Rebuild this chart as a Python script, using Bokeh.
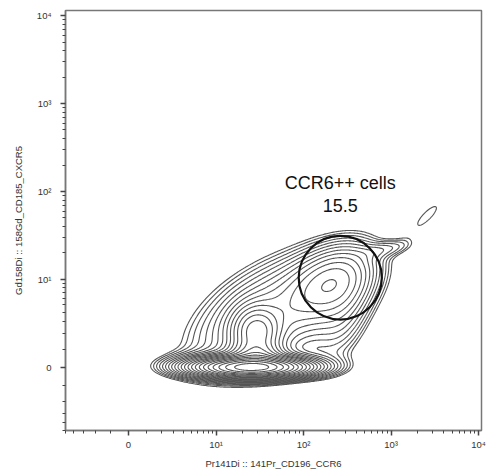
import numpy as np
from bokeh.plotting import figure
from bokeh.models import FixedTicker, Range1d
from bokeh.core.properties import value
from bokeh.embed import file_html
from bokeh.resources import INLINE

# ---- data (display decades of a biexponential scale: 0 -> 0, 10^k -> k) ----
x_title = "Pr141Di :: 141Pr_CD196_CCR6"
y_title = "Gd158Di :: 158Gd_CD185_CXCR5"
major_labels = ["0", "10\u00b9", "10\u00b2", "10\u00b3", "10\u2074"]

# cell populations (centre, spread, tilt, share)
pop_x = [1.40, 1.40, 1.46, 1.46, 2.32, 1.70, 2.45, 2.95, 3.42]
pop_y = [0.00, 0.03, 0.12, 0.40, 0.97, 0.62, 0.60, 1.35, 1.73]
pop_sx = [0.33, 0.45, 0.18, 0.16, 0.28, 0.55, 0.20, 0.20, 0.1924]
pop_sy = [0.06, 0.085, 0.10, 0.17, 0.24, 0.40, 0.35, 0.07, 0.1924]
pop_rho = [0.0, 0.0, 0.0, 0.0, 0.35, 0.5, 0.4, 0.5, 0.827]
pop_w = [0.40, 0.10, 0.05, 0.08, 0.125, 0.26, 0.03, 0.004, 0.00444]

gate_name = "CCR6++ cells"
gate_pct = "15.5"
gate_x, gate_y, gate_r = 2.42, 1.02, 0.475


def disp(v):
    return np.arcsinh(np.asarray(v, dtype=float) / 2.0) / np.log(10)


minor_vals = list(range(-5, 0)) + list(range(1, 10)) + \
    [m * 10 ** k for k in (1, 2, 3) for m in range(2, 10)]

# ---- density grid ----
gx = np.linspace(-0.72, 4.05, 420)
gy = np.linspace(-0.72, 4.07, 420)
X, Y = np.meshgrid(gx, gy)
Z = np.zeros_like(X)
for mx, my, sx, sy, r, w in zip(pop_x, pop_y, pop_sx, pop_sy, pop_rho, pop_w):
    dx = (X - mx) / sx
    dy = (Y - my) / sy
    q = (dx * dx - 2 * r * dx * dy + dy * dy) / (1 - r * r)
    Z += w / (2 * np.pi * sx * sy * np.sqrt(1 - r * r)) * np.exp(-q / 2)

# log-spaced contour levels
levels = []
lev = 0.03
while lev < Z.max():
    levels.append(lev)
    lev *= 1.25

p = figure(width=489, height=473, output_backend="svg", toolbar_location=None,
           x_range=Range1d(-0.72, 4.034), y_range=Range1d(-0.716, 4.057),
           min_border_left=65, min_border_right=8, min_border_top=10,
           min_border_bottom=43)
p.grid.visible = False
p.outline_line_color = "#777777"
p.outline_line_width = 1.5
p.background_fill_color = "white"
p.border_fill_color = "white"

p.contour(gx, gy, Z, levels, line_color="#555555", line_width=1.1,
          fill_color=None)

p.ellipse(x=[gate_x], y=[gate_y], width=2 * gate_r, height=2 * gate_r,
          fill_color=None, line_color="#111111", line_width=2.2)
p.text(x=[gate_x, gate_x], y=[2.10, 1.84], text=[gate_name, gate_pct],
       text_align="center", text_baseline="middle", text_color="#111111",
       text_font=value("Liberation Sans"), text_font_size="18px")

for ax, title in ((p.xaxis[0], x_title), (p.yaxis[0], y_title)):
    ax.ticker = FixedTicker(ticks=list(range(5)),
                            minor_ticks=[float(t) for t in disp(minor_vals)])
    ax.major_label_overrides = {i: lab for i, lab in enumerate(major_labels)}
    ax.axis_label = title
    ax.axis_label_text_font = "Liberation Sans"
    ax.axis_label_text_font_style = "normal"
    ax.axis_label_text_font_size = "9.5px"
    ax.axis_label_text_color = "#333333"
    ax.major_label_text_font = "Liberation Sans"
    ax.major_label_text_font_size = "9.5px"
    ax.major_label_text_color = "#333333"
    ax.axis_line_color = "#777777"
    ax.axis_line_width = 1.5
    ax.major_tick_line_color = "#444444"
    ax.minor_tick_line_color = "#444444"
    ax.major_tick_out = 5
    ax.major_tick_in = 0
    ax.minor_tick_out = 3
    ax.minor_tick_in = 0
    ax.major_tick_line_width = 1.5

p.xaxis.major_label_standoff = 3
p.xaxis.axis_label_standoff = 5
p.yaxis.major_label_standoff = 9
p.yaxis.axis_label_standoff = 10
p.yaxis.major_label_orientation = "horizontal"

open("out.html", "w").write(file_html(p, INLINE))
